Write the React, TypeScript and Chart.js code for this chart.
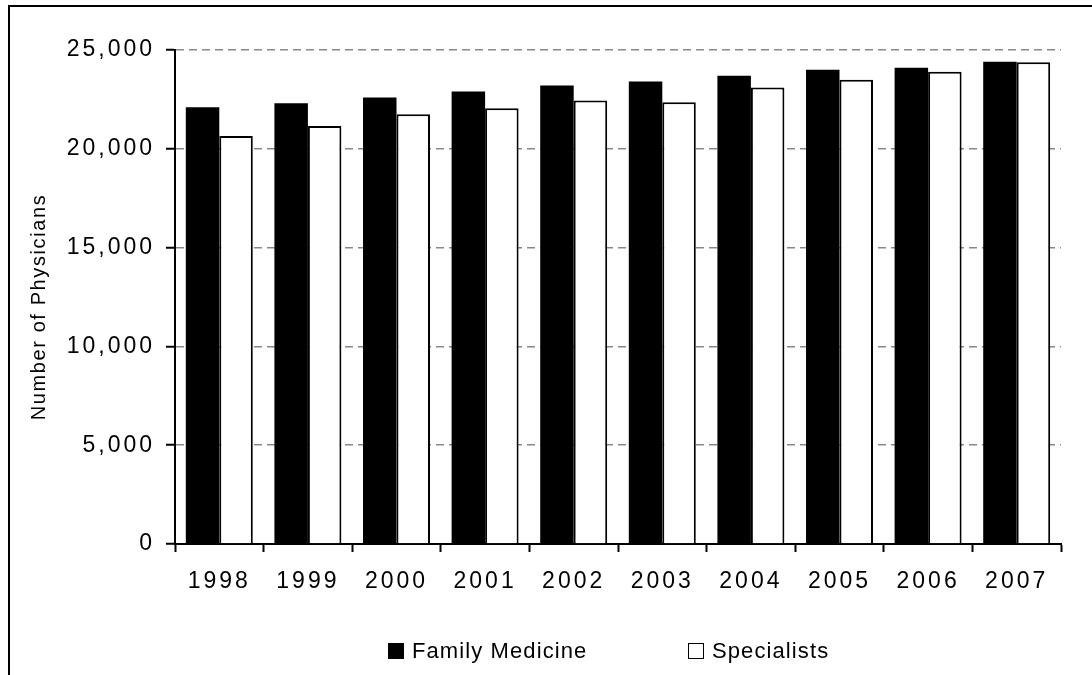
import { useEffect, useRef } from 'react';
import { Chart, registerables } from 'chart.js';

Chart.register(...registerables);

// Physicians per year, by group
const years = ['1998', '1999', '2000', '2001', '2002', '2003', '2004', '2005', '2006', '2007'];
const familyMedicine = [22100, 22300, 22600, 22900, 23200, 23400, 23700, 24000, 24100, 24400];
const specialists = [20650, 21150, 21750, 22050, 22450, 22350, 23100, 23500, 23900, 24380];

const seriesNames = ['Family Medicine', 'Specialists'];
const yTickValues = [0, 5000, 10000, 15000, 20000, 25000];
const yTickLabels = ['0', '5,000', '10,000', '15,000', '20,000', '25,000'];
const yAxisTitle = 'Number of Physicians';

const FONT = '"Liberation Sans", Arial, Helvetica, sans-serif';

// Wider tracking for tick labels, plus the rotated axis title
const textPlugin = {
  id: 'textTracking',
  beforeUpdate(chart: any) {
    chart.ctx.letterSpacing = '3px';
  },
  beforeDraw(chart: any) {
    chart.ctx.letterSpacing = '3px';
  },
  afterDraw(chart: any) {
    const { ctx, chartArea } = chart;
    ctx.save();
    ctx.letterSpacing = '1.6px';
    ctx.font = `20px ${FONT}`;
    ctx.fillStyle = '#000';
    ctx.translate(39, (chartArea.top + chartArea.bottom) / 2 + 10);
    ctx.rotate(-Math.PI / 2);
    ctx.textAlign = 'center';
    ctx.textBaseline = 'middle';
    ctx.fillText(yAxisTitle, 0, 0);
    ctx.restore();
  },
};

export default function App() {
  const canvasRef = useRef<HTMLCanvasElement | null>(null);

  useEffect(() => {
    if (!canvasRef.current) return;
    const chart = new Chart(canvasRef.current, {
      type: 'bar',
      data: {
        labels: years,
        datasets: [
          {
            label: seriesNames[0],
            data: familyMedicine,
            backgroundColor: '#000000',
            borderWidth: 0,
            categoryPercentage: 0.756,
            barPercentage: 1.0,
          },
          {
            label: seriesNames[1],
            data: specialists,
            backgroundColor: '#ffffff',
            borderColor: '#000000',
            borderWidth: 2,
            categoryPercentage: 0.756,
            barPercentage: 1.0,
          },
        ],
      },
      options: {
        animation: false,
        responsive: true,
        maintainAspectRatio: false,
        layout: { padding: { left: 0, right: 31, top: 50, bottom: 0 } },
        plugins: {
          legend: { display: false },
          tooltip: { enabled: false },
        },
        scales: {
          x: {
            grid: {
              display: true,
              offset: true,
              drawOnChartArea: false,
              drawTicks: true,
              tickLength: 8,
              tickWidth: 2,
              tickColor: '#000',
            },
            border: { display: true, color: '#000', width: 2 },
            ticks: {
              color: '#000',
              font: { family: FONT, size: 23 },
              padding: 16,
              maxRotation: 0,
            },
            afterFit(scale: any) {
              scale.height = 131;
            },
          },
          y: {
            min: 0,
            max: 25000,
            afterBuildTicks(scale: any) {
              scale.ticks = yTickValues.map((v) => ({ value: v }));
            },
            grid: {
              color: '#888',
              lineWidth: 1.5,
              drawTicks: true,
              tickLength: 9,
              tickWidth: 2,
              tickColor: '#000',
            },
            border: { display: true, color: '#000', width: 2, dash: [8, 5] },
            ticks: {
              color: '#000',
              font: { family: FONT, size: 23 },
              padding: 11,
              callback: (value: any) => {
                const i = yTickValues.indexOf(Number(value));
                return i >= 0 ? yTickLabels[i] : '';
              },
            },
            afterFit(scale: any) {
              scale.width = 175;
            },
          },
        },
      },
      plugins: [textPlugin],
    });
    return () => chart.destroy();
  }, []);

  const legendText: React.CSSProperties = {
    position: 'absolute',
    top: 639,
    fontFamily: FONT,
    fontSize: 22,
    lineHeight: '24px',
    letterSpacing: '1.1px',
    color: '#000',
    whiteSpace: 'nowrap',
  };

  return (
    <div>
      <div
        style={{
          position: 'fixed',
          left: 8,
          top: 5,
          width: 1200,
          height: 800,
          border: '2px solid #000',
          boxSizing: 'border-box',
        }}
      />
      <div style={{ position: 'fixed', left: 0, top: 0, width: 1092, height: 675 }}>
        <canvas ref={canvasRef} />
      </div>
      <div style={{ position: 'fixed', left: 0, top: 0, width: 1092, height: 675, pointerEvents: 'none' }}>
        <div style={{ position: 'absolute', left: 388, top: 643, width: 16, height: 16, background: '#000' }} />
        <span style={{ ...legendText, left: 412 }}>{seriesNames[0]}</span>
        <div
          style={{
            position: 'absolute',
            left: 688,
            top: 643,
            width: 16,
            height: 16,
            background: '#fff',
            border: '1.5px solid #000',
            boxSizing: 'border-box',
          }}
        />
        <span style={{ ...legendText, left: 712 }}>{seriesNames[1]}</span>
      </div>
    </div>
  );
}
